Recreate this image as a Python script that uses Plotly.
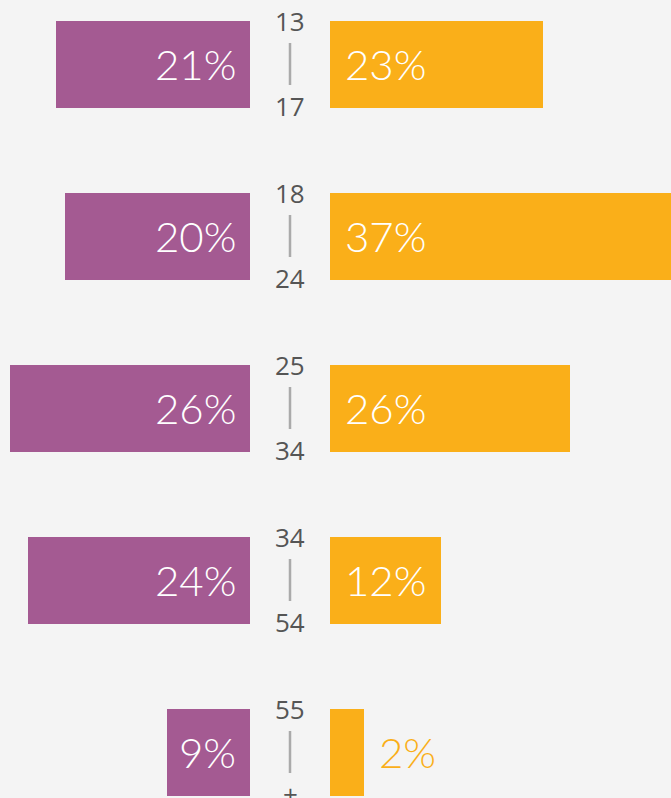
import plotly.graph_objects as go

age_top = ["13", "18", "25", "34", "55"]
age_bottom = ["17", "24", "34", "54", "+"]
left_values = [21, 20, 26, 24, 9]
right_values = [23, 37, 26, 12, 2]

PURPLE = "#A45A92"
ORANGE = "#FAAF19"
BG = "#F4F4F4"
W, H = 671, 798
PX_PER_UNIT = 9.24
LEFT_END = 250
RIGHT_START = 330
ROW_TOP = 64
ROW_STEP = 172
BAR_FRAC = 87 / 172
MIN_BAR = 3.7  # minimum visible bar length (units)
LEFT_PAD = 12 / PX_PER_UNIT
RIGHT_PAD = 13 / PX_PER_UNIT
LABEL_FONT = dict(family="Lato", size=42, color="white", weight=300)
AGE_FONT = dict(family="Open Sans", size=26, color="#555555")

rows = list(range(len(age_top)))
right_draw = [max(v, MIN_BAR) for v in right_values]

fig = go.Figure()
fig.add_trace(go.Bar(y=rows, x=left_values, orientation="h", xaxis="x", yaxis="y",
                     marker=dict(color=PURPLE, line=dict(width=0)), width=BAR_FRAC,
                     hoverinfo="skip"))
fig.add_trace(go.Bar(y=rows, x=right_draw, orientation="h", xaxis="x2", yaxis="y",
                     marker=dict(color=ORANGE, line=dict(width=0)), width=BAR_FRAC,
                     hoverinfo="skip"))

y_top = -ROW_TOP / ROW_STEP
y_bot = (H - ROW_TOP) / ROW_STEP

annotations = []
shapes = []
for i in rows:
    annotations.append(dict(x=LEFT_PAD, y=i, xref="x", yref="y", text=f"{left_values[i]}%",
                            showarrow=False, xanchor="right", yanchor="middle", font=LABEL_FONT))
    if right_values[i] < 5:
        annotations.append(dict(x=right_draw[i] + RIGHT_PAD, y=i, xref="x2", yref="y",
                                text=f"{right_values[i]}%", showarrow=False, xanchor="left",
                                yanchor="middle", font={**LABEL_FONT, "color": ORANGE}))
    else:
        annotations.append(dict(x=RIGHT_PAD, y=i, xref="x2", yref="y", text=f"{right_values[i]}%",
                                showarrow=False, xanchor="left", yanchor="middle", font=LABEL_FONT))
    cx = 290 / W
    annotations.append(dict(x=cx, y=i - 0.25, xref="paper", yref="y", text=age_top[i],
                            showarrow=False, xanchor="center", yanchor="middle", font=AGE_FONT))
    annotations.append(dict(x=cx, y=i + 0.245, xref="paper", yref="y", text=age_bottom[i],
                            showarrow=False, xanchor="center", yanchor="middle", font=AGE_FONT))
    shapes.append(dict(type="line", xref="paper", yref="y", x0=cx, x1=cx,
                       y0=i - 0.122, y1=i + 0.122, line=dict(color="#AAAAAA", width=2.5)))

fig.update_layout(
    width=W, height=H, margin=dict(l=0, r=0, t=0, b=0),
    paper_bgcolor=BG, plot_bgcolor=BG, showlegend=False,
    xaxis=dict(domain=[0, LEFT_END / W], range=[LEFT_END / PX_PER_UNIT, 0],
               visible=False, fixedrange=True),
    xaxis2=dict(domain=[RIGHT_START / W, 1], range=[0, (W - RIGHT_START) / PX_PER_UNIT],
                visible=False, fixedrange=True),
    yaxis=dict(range=[y_bot, y_top], visible=False, fixedrange=True),
    annotations=annotations, shapes=shapes, bargap=0,
)

fig.write_html("out.html", config={"displayModeBar": False})
